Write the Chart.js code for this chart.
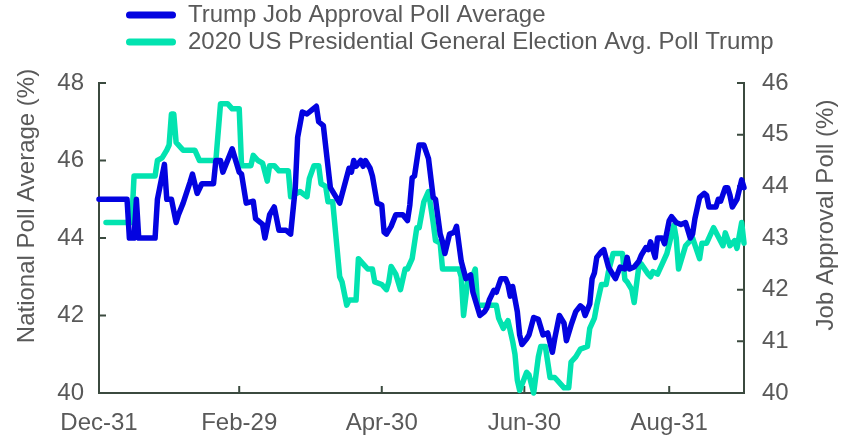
<!DOCTYPE html>
<html>
<head>
<meta charset="utf-8">
<script src="https://cdn.jsdelivr.net/npm/chart.js@4.4.1/dist/chart.umd.min.js"></script>
<style>
  html, body { margin: 0; padding: 0; background: #fff; }
  #wrap { width: 854px; height: 436px; }
</style>
</head>
<body>
<div id="wrap"><canvas id="polls"></canvas></div>
<script>
// x values are days counted from 31 Dec 2019
var approvalDays = [0, 12, 13, 15, 16, 17, 24, 25, 26, 28, 29, 31, 33, 34, 36, 39, 40, 42, 44, 49, 50, 52, 53, 57, 60, 61, 63, 66, 67, 70, 71, 73, 75, 77, 80, 82, 84, 85, 87, 89, 91, 93, 94, 96, 99, 101, 103, 107, 108, 109, 110, 112, 113, 114, 116, 117, 119, 121, 122, 123, 125, 127, 130, 132, 133, 134, 135, 137, 139, 141, 143, 144, 146, 147, 148, 150, 152, 153, 155, 157, 159, 160, 162, 163, 165, 166, 167, 169, 170, 172, 174, 175, 176, 177, 179, 180, 181, 183, 184, 186, 188, 190, 192, 194, 195, 197, 199, 200, 202, 204, 206, 207, 208, 210, 211, 212, 213, 215, 216, 218, 220, 221, 223, 225, 226, 227, 229, 231, 232, 234, 235, 236, 238, 239, 241, 242, 244, 245, 247, 249, 251, 253, 254, 255, 257, 259, 260, 261, 264, 265, 266, 268, 269, 270, 271, 273, 275, 276];
var approvalValues = [45.0, 45.0, 44.0, 44.0, 45.0, 44.0, 44.0, 45.0, 45.3, 45.9, 45.0, 45.0, 44.4, 44.6, 44.9, 45.45, 45.65, 45.15, 45.4, 45.4, 46.0, 46.0, 45.7, 46.3, 45.7, 45.65, 44.9, 44.95, 44.5, 44.35, 44.0, 44.6, 44.8, 44.2, 44.2, 44.1, 45.3, 46.6, 47.25, 47.2, 47.3, 47.4, 47.0, 46.9, 45.3, 45.1, 44.9, 45.8, 45.7, 46.0, 45.85, 46.0, 45.85, 46.0, 45.8, 45.6, 44.9, 44.85, 44.15, 44.1, 44.3, 44.6, 44.6, 44.45, 44.85, 45.55, 45.6, 46.4, 46.4, 46.05, 45.05, 45.0, 44.1, 43.9, 43.6, 44.1, 44.15, 44.3, 43.4, 42.95, 43.05, 42.6, 42.2, 42.0, 42.1, 42.2, 42.4, 42.65, 42.6, 42.95, 42.95, 42.8, 42.5, 42.75, 42.1, 41.5, 41.25, 41.4, 41.5, 41.95, 41.9, 41.5, 41.55, 41.05, 41.4, 42.0, 41.8, 41.35, 41.75, 42.1, 42.25, 42.2, 42.0, 42.3, 42.95, 43.1, 43.5, 43.65, 43.7, 43.25, 43.05, 42.95, 43.25, 43.2, 43.5, 43.2, 43.25, 43.4, 43.55, 43.75, 43.7, 43.9, 43.5, 44.0, 44.0, 43.85, 44.45, 44.55, 44.4, 44.35, 44.4, 44.0, 44.1, 44.5, 45.05, 45.15, 45.1, 44.8, 44.8, 45.0, 44.95, 45.3, 45.3, 45.1, 44.8, 45.0, 45.5, 45.3];

var electionDays = [3, 14, 15, 24, 25, 27, 29, 30, 31, 32, 33, 35, 36, 41, 43, 50, 52, 55, 57, 60, 61, 65, 66, 68, 70, 72, 73, 75, 77, 81, 82, 84, 86, 89, 90, 92, 94, 95, 97, 98, 100, 103, 104, 106, 107, 110, 111, 113, 115, 117, 118, 121, 123, 124, 125, 127, 129, 131, 132, 134, 136, 137, 139, 141, 143, 144, 146, 147, 154, 155, 156, 158, 159, 161, 162, 170, 171, 173, 175, 177, 178, 179, 180, 183, 184, 186, 188, 189, 191, 193, 195, 197, 199, 201, 202, 204, 206, 209, 210, 212, 213, 215, 217, 218, 220, 224, 225, 226, 228, 229, 231, 232, 235, 236, 237, 239, 241, 243, 246, 247, 248, 251, 253, 254, 257, 258, 260, 263, 267, 268, 270, 272, 273, 275, 276];
var electionValues = [43.3, 43.3, 44.2, 44.2, 44.5, 44.55, 44.7, 44.8, 45.4, 45.4, 44.85, 44.75, 44.7, 44.7, 44.5, 44.5, 45.6, 45.6, 45.5, 45.5, 44.4, 44.4, 44.6, 44.5, 44.45, 44.1, 44.4, 44.4, 44.3, 44.3, 43.8, 43.85, 43.9, 43.8, 44.15, 44.4, 44.4, 44.05, 44.0, 43.7, 43.7, 42.25, 42.15, 41.7, 41.8, 41.8, 42.6, 42.5, 42.4, 42.4, 42.15, 42.1, 42.0, 42.15, 42.45, 42.3, 42.0, 42.4, 42.4, 42.6, 43.2, 43.2, 43.7, 43.9, 43.3, 42.95, 42.9, 42.4, 42.4, 42.25, 41.5, 42.25, 42.15, 42.4, 41.7, 41.7, 41.45, 41.25, 41.4, 41.0, 40.75, 40.25, 40.05, 40.4, 40.35, 40.0, 40.7, 40.9, 40.9, 40.3, 40.3, 40.2, 40.1, 40.1, 40.6, 40.7, 40.85, 40.9, 41.25, 41.45, 41.7, 42.1, 42.1, 42.35, 42.7, 42.7, 42.2, 42.15, 42.0, 41.75, 42.45, 42.5, 42.3, 42.25, 42.35, 42.3, 42.5, 42.7, 43.25, 43.0, 42.4, 42.85, 42.95, 43.0, 42.6, 42.9, 42.9, 43.2, 42.85, 43.1, 42.85, 42.95, 42.8, 43.3, 42.9];

var tickDays = [0, 60, 121, 182, 244];
var tickLabels = ['Dec-31', 'Feb-29', 'Apr-30', 'Jun-30', 'Aug-31'];
var lastDay = 276;
var leftTitle = 'National Poll Average (%)';
var rightTitle = 'Job Approval Poll (%)';

var blue = '#0303e0';
var teal = '#02e3b0';
var axisColor = '#3b4a3f';
var textColor = '#595959';
var font = { family: '"Liberation Sans", Arial, sans-serif', size: 24 };

function points(days, values) {
  return days.map(function(d, i) { return { x: d, y: values[i] }; });
}

// short tick marks pointing into the plot
var innerTicks = {
  id: 'innerTicks',
  beforeDatasetsDraw: function(chart) {
    var ctx = chart.ctx, a = chart.chartArea, s = chart.scales;
    ctx.save();
    ctx.strokeStyle = axisColor;
    ctx.lineWidth = 2;
    ctx.beginPath();
    s.y.ticks.forEach(function(t) {
      var py = s.y.getPixelForValue(t.value);
      ctx.moveTo(a.left, py); ctx.lineTo(a.left + 7, py);
    });
    s.y1.ticks.forEach(function(t) {
      var py = s.y1.getPixelForValue(t.value);
      ctx.moveTo(a.right, py); ctx.lineTo(a.right - 7, py);
    });
    tickDays.forEach(function(d) {
      var px = s.x.getPixelForValue(d);
      ctx.moveTo(px, a.bottom); ctx.lineTo(px, a.bottom - 7);
    });
    ctx.stroke();
    ctx.restore();
  }
};

// both axis titles read bottom to top
var axisTitles = {
  id: 'axisTitles',
  afterDraw: function(chart) {
    var ctx = chart.ctx;
    ctx.save();
    ctx.fillStyle = textColor;
    ctx.font = font.size + 'px ' + font.family;
    ctx.textAlign = 'center';
    ctx.textBaseline = 'middle';
    [[leftTitle, 27, 206], [rightTitle, 826, 215]].forEach(function(t) {
      ctx.save();
      ctx.translate(t[1], t[2]);
      ctx.rotate(-Math.PI / 2);
      ctx.fillText(t[0], 0, 0);
      ctx.restore();
    });
    ctx.restore();
  }
};

// legend sits left-aligned and leaves room above the plot
var legendPlace = {
  id: 'legendPlace',
  beforeInit: function(chart) {
    var lg = chart.legend, fit = lg.fit;
    lg.fit = function() { fit.call(lg); lg.height = 83; };
  },
  beforeDraw: function(chart) {
    chart.legend.left = 123;
  }
};

new Chart(document.getElementById('polls'), {
  type: 'line',
  data: {
    datasets: [{
      label: 'Trump Job Approval Poll Average',
      data: points(approvalDays, approvalValues),
      yAxisID: 'y',
      borderColor: blue,
      backgroundColor: blue,
      borderWidth: 5.5,
      pointRadius: 0,
      tension: 0,
      borderJoinStyle: 'round',
      borderCapStyle: 'round',
      clip: false
    }, {
      label: '2020 US Presidential General Election Avg. Poll Trump',
      data: points(electionDays, electionValues),
      yAxisID: 'y1',
      borderColor: teal,
      backgroundColor: teal,
      borderWidth: 5.5,
      pointRadius: 0,
      tension: 0,
      borderJoinStyle: 'round',
      borderCapStyle: 'round',
      clip: false
    }]
  },
  options: {
    responsive: true,
    maintainAspectRatio: false,
    animation: false,
    layout: { padding: 0 },
    plugins: {
      tooltip: { enabled: false },
      legend: {
        position: 'top',
        align: 'start',
        labels: {
          color: textColor,
          font: font,
          boxWidth: 50,
          boxHeight: 7,
          padding: 3,
          useBorderRadius: true,
          borderRadius: 3.5,
          generateLabels: function(chart) {
            return Chart.defaults.plugins.legend.labels.generateLabels(chart).map(function(item) {
              item.lineWidth = 0;
              return item;
            });
          }
        }
      }
    },
    scales: {
      x: {
        type: 'linear',
        min: 0,
        max: lastDay,
        afterBuildTicks: function(scale) {
          scale.ticks = tickDays.map(function(d) { return { value: d }; });
        },
        afterFit: function(scale) { scale.height = 43; },
        ticks: {
          autoSkip: false,
          maxRotation: 0,
          color: textColor,
          font: font,
          padding: 16,
          callback: function(value) { return tickLabels[tickDays.indexOf(value)]; }
        },
        grid: { display: true, drawOnChartArea: false, drawTicks: false },
        border: { display: true, color: axisColor, width: 2 }
      },
      y: {
        position: 'left',
        min: 40,
        max: 48,
        afterFit: function(scale) { scale.width = 99; },
        ticks: { stepSize: 2, color: textColor, font: font, padding: 15 },
        grid: { display: true, drawOnChartArea: false, drawTicks: false },
        border: { display: true, color: axisColor, width: 2 }
      },
      y1: {
        position: 'right',
        min: 40,
        max: 46,
        afterFit: function(scale) { scale.width = 110; },
        ticks: { stepSize: 1, color: textColor, font: font, padding: 18 },
        grid: { display: true, drawOnChartArea: false, drawTicks: false },
        border: { display: true, color: axisColor, width: 2 }
      }
    }
  },
  plugins: [innerTicks, axisTitles, legendPlace]
});
</script>
</body>
</html>
